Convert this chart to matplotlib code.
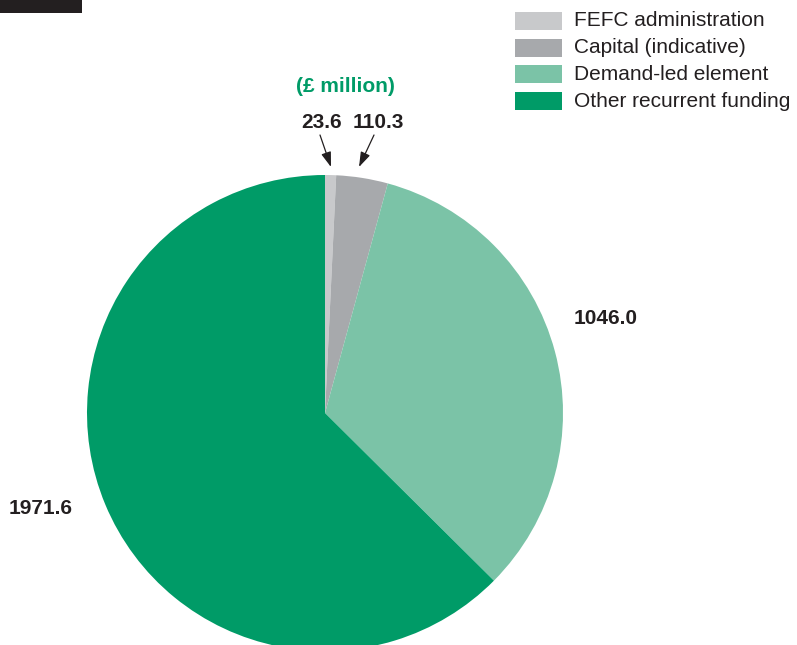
import matplotlib.pyplot as plt
from matplotlib.patches import Rectangle

plt.rcParams['font.family'] = ['Liberation Sans', 'DejaVu Sans']

# FEFC funding breakdown, £ million
categories = ['FEFC administration', 'Capital (indicative)',
              'Demand-led element', 'Other recurrent funding']
values = [23.6, 110.3, 1046.0, 1971.6]
colors = ['#c8c9cb', '#a7a9ac', '#7bc3a7', '#009b67']

W, H = 797, 645
fig = plt.figure(figsize=(W / 100, H / 100), dpi=100)
ax = fig.add_axes([0, 0, 1, 1])

# work in pixel-like coordinates, y measured from the bottom
cx, cy, r = 325, H - 413, 238
ax.pie(values, colors=colors, startangle=90, counterclock=False,
       center=(cx, cy), radius=r, wedgeprops=dict(linewidth=0))

ax.set_xlim(0, W)
ax.set_ylim(0, H)
ax.set_aspect('equal')
ax.axis('off')

# dark tab in the corner
ax.add_patch(Rectangle((0, H - 13), 82, 13, color='#231f20', lw=0))

# legend
for i, (cat, col) in enumerate(zip(categories, colors)):
    top = 12 + i * 26.7
    ax.add_patch(Rectangle((515, H - top - 18), 47, 18, color=col, lw=0))
    ax.text(574, H - top - 9, cat, fontsize=15, color='#231f20',
            va='center', ha='left')

ax.text(345, H - 87, '(£ million)', fontsize=15, fontweight='bold',
        color='#009b67', ha='center', va='center')

lab = dict(fontsize=15, fontweight='bold', color='#231f20', va='center', ha='center')
ax.text(322, H - 122, f'{values[0]:.1f}', **lab)
ax.text(378, H - 122, f'{values[1]:.1f}', **lab)
ax.text(606, H - 318, f'{values[2]:.1f}', **lab)
ax.text(41, H - 508, f'{values[3]:.1f}', **lab)

arrow = dict(arrowstyle='-|>,head_length=0.9,head_width=0.3', color='#231f20',
             lw=0.9, mutation_scale=10, shrinkA=0, shrinkB=0)
ax.annotate('', xy=(331, H - 167), xytext=(320, H - 135), arrowprops=arrow)
ax.annotate('', xy=(359, H - 167), xytext=(374, H - 135), arrowprops=arrow)

fig.savefig('out.png', dpi=100)
